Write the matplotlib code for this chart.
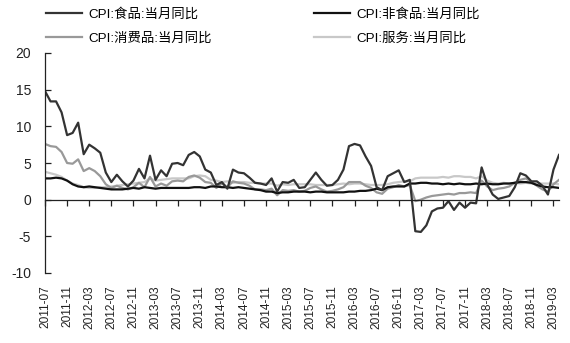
import matplotlib
matplotlib.use("Agg")
import matplotlib.pyplot as plt
import matplotlib.transforms as mtransforms
import pandas as pd

plt.rcParams['font.family'] = ['Liberation Sans', 'Noto Sans CJK SC', 'DejaVu Sans']
plt.rcParams['axes.unicode_minus'] = False

months = pd.period_range("2011-07", "2019-04", freq="M").strftime("%Y-%m").tolist()

food = [14.8, 13.4, 13.4, 11.9, 8.8, 9.1,
        10.5, 6.2, 7.5, 7.0, 6.4, 3.7, 2.4, 3.4, 2.5, 1.8, 2.6, 4.2,
        2.9, 6.0, 2.7, 4.0, 3.2, 4.9, 5.0, 4.7, 6.1, 6.5, 5.9, 4.1,
        3.7, 2.0, 2.4, 1.5, 4.1, 3.7, 3.6, 3.0, 2.3, 2.2, 2.0, 2.9,
        1.1, 2.4, 2.3, 2.7, 1.6, 1.7, 2.7, 3.7, 2.7, 1.9, 2.0, 2.7,
        4.1, 7.3, 7.6, 7.4, 5.9, 4.6, 1.7, 1.3, 3.2, 3.6, 4.0, 2.4,
        2.7, -4.3, -4.4, -3.5, -1.6, -1.2, -1.1, -0.2, -1.4, -0.4, -1.1, -0.4,
        -0.5, 4.4, 2.1, 0.7, 0.1, 0.3, 0.5, 1.7, 3.6, 3.3, 2.5, 2.5,
        1.9, 0.7, 4.1, 6.1]

non_food = [2.9, 2.9, 3.0, 2.9, 2.6, 2.1,
            1.8, 1.7, 1.8, 1.7, 1.6, 1.5, 1.4, 1.4, 1.4, 1.5, 1.6, 1.5,
            1.7, 1.6, 1.5, 1.6, 1.6, 1.6, 1.6, 1.6, 1.6, 1.7, 1.7, 1.6,
            1.8, 1.8, 1.7, 1.7, 1.6, 1.7, 1.6, 1.5, 1.4, 1.3, 1.1, 1.1,
            0.9, 1.0, 1.0, 1.1, 1.1, 1.1, 1.0, 1.1, 1.1, 1.0, 1.0, 1.0,
            1.0, 1.1, 1.1, 1.2, 1.2, 1.3, 1.5, 1.3, 1.7, 1.8, 1.8, 1.8,
            2.2, 2.2, 2.3, 2.3, 2.2, 2.2, 2.1, 2.2, 2.1, 2.2, 2.1, 2.1,
            2.2, 2.1, 2.2, 2.1, 2.1, 2.2, 2.2, 2.3, 2.4, 2.4, 2.3, 2.0,
            1.8, 1.7, 1.7, 1.6]

consumer_goods = [7.6, 7.3, 7.2, 6.5, 5.0, 4.9,
                  5.5, 3.9, 4.3, 3.9, 3.2, 2.1, 1.6, 1.9, 1.6, 1.4, 1.7, 2.3,
                  1.7, 3.1, 1.8, 2.2, 1.9, 2.5, 2.6, 2.5, 3.1, 3.3, 3.0, 2.4,
                  2.3, 1.6, 2.2, 1.7, 2.5, 2.3, 2.2, 1.9, 1.4, 1.4, 1.3, 1.5,
                  0.6, 1.3, 1.2, 1.3, 1.1, 1.2, 1.6, 1.8, 1.4, 1.1, 1.2, 1.4,
                  1.7, 2.4, 2.4, 2.4, 1.9, 1.6, 1.0, 0.8, 1.5, 1.7, 2.0, 1.8,
                  2.0, -0.2, 0.0, 0.3, 0.5, 0.6, 0.7, 0.8, 0.7, 0.9, 0.9, 1.0,
                  0.9, 2.6, 1.8, 1.3, 1.5, 1.6, 1.8, 2.3, 2.7, 2.9, 2.4, 1.9,
                  1.4, 1.1, 2.1, 2.7]

services = [3.8, 3.6, 3.4, 3.1, 2.6, 2.2,
            2.0, 1.7, 1.6, 1.6, 1.7, 1.7, 1.8, 1.9, 2.0, 2.1, 2.2, 2.3,
            2.4, 2.9, 2.6, 2.7, 2.8, 2.9, 2.9, 2.9, 2.9, 3.2, 3.3, 3.2,
            2.7, 2.6, 2.4, 2.5, 2.3, 2.4, 2.4, 2.3, 2.3, 2.2, 2.2, 2.2,
            1.9, 2.1, 2.0, 2.1, 2.1, 2.1, 2.1, 2.0, 2.0, 2.0, 2.0, 2.1,
            2.2, 2.1, 2.2, 2.2, 2.1, 2.0, 2.0, 2.0, 2.1, 2.3, 2.4, 2.5,
            2.5, 2.9, 3.0, 3.0, 3.0, 3.0, 3.1, 3.0, 3.2, 3.2, 3.1, 3.1,
            2.9, 3.2, 2.6, 2.3, 2.2, 2.3, 2.2, 2.3, 2.2, 2.3, 2.2, 2.2,
            2.2, 2.2, 2.2, 2.1]

series = [
    ("CPI:食品:当月同比", food, "#333333"),
    ("CPI:消费品:当月同比", consumer_goods, "#999999"),
    ("CPI:非食品:当月同比", non_food, "#111111"),
    ("CPI:服务:当月同比", services, "#c8c8c8"),
]

fig = plt.figure(figsize=(5.70, 3.43), dpi=100)
ax = fig.add_axes([45 / 570, 1 - 273 / 343, (559 - 45) / 570, 220 / 343])

x = list(range(len(months)))
# draw back-to-front so the food line sits on top
draw_order = [3, 1, 2, 0]
handles = {}
for k in draw_order:
    name, vals, color = series[k]
    (h,) = ax.plot(x, vals, color=color, lw=1.6, label=name, solid_joinstyle="round")
    handles[k] = h

ax.set_xlim(0, len(months) - 1)
ax.set_ylim(-10, 20)
ax.set_yticks(range(-10, 21, 5))

for side in ("top", "right"):
    ax.spines[side].set_visible(False)
ax.spines["bottom"].set_position(("data", 0))
ax.spines["left"].set_color("#222222")
ax.spines["bottom"].set_color("#222222")
ax.spines["left"].set_linewidth(0.9)
ax.spines["bottom"].set_linewidth(0.9)

tick_idx = list(range(0, len(months), 4))
ax.set_xticks(tick_idx)
ax.tick_params(axis="x", direction="out", length=4, width=0.9, color="#222222",
               labelbottom=False)
ax.tick_params(axis="y", direction="in", length=4, width=0.9, color="#222222",
               labelsize=10, labelcolor="#222222", pad=10)

# date labels under the plot area
trans = mtransforms.blended_transform_factory(ax.transData, ax.transAxes)
for i in tick_idx:
    ax.text(i, -0.055, months[i], transform=trans, rotation=90, ha="center",
            va="top", fontsize=8.6, color="#222222")

order = [0, 1, 2, 3]
fig.legend([handles[k] for k in order], [series[k][0] for k in order],
           ncol=2, loc="upper left", bbox_to_anchor=(38 / 570, 1.0),
           frameon=False, fontsize=9.6, handlelength=2.7, handletextpad=0.45,
           columnspacing=7.7, labelspacing=0.85, borderaxespad=0.2)

fig.savefig("out.png", dpi=100)
